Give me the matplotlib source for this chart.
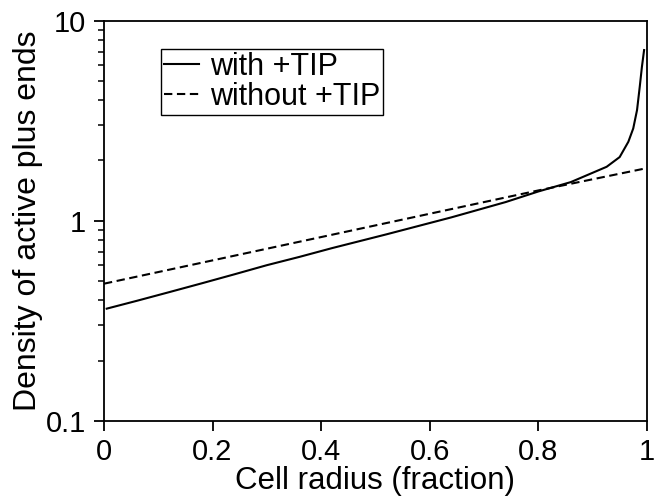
import matplotlib
matplotlib.use("Agg")
import matplotlib.pyplot as plt
from matplotlib.ticker import FixedLocator, NullFormatter, FixedFormatter

plt.rcParams['font.family'] = ['Liberation Sans', 'DejaVu Sans']

# with +TIP (solid)
x_with = [0.005, 0.06, 0.12, 0.18, 0.24, 0.30, 0.36, 0.42, 0.52, 0.64,
          0.74, 0.80, 0.86, 0.926, 0.950, 0.966, 0.975, 0.982, 0.987, 0.991, 0.995]
y_with = [0.364, 0.398, 0.44, 0.487, 0.54, 0.60, 0.66, 0.73, 0.855, 1.04,
          1.24, 1.40, 1.56, 1.86, 2.08, 2.48, 2.89, 3.57, 4.67, 5.87, 7.12]

# without +TIP (dashed)
x_without = [0.0, 0.2, 0.4, 0.6, 0.8, 0.995]
y_without = [0.485, 0.634, 0.829, 1.084, 1.417, 1.82]

xticks = [0, 0.2, 0.4, 0.6, 0.8, 1]
xtick_labels = ["0", "0.2", "0.4", "0.6", "0.8", "1"]
yticks = [0.1, 1, 10]
ytick_labels = ["0.1", "1", "10"]

fig = plt.figure(figsize=(6.54, 4.98), dpi=100)
ax = fig.add_axes([0.159, 0.1546, 0.830, 0.8042])

ax.plot(x_with, y_with, color='black', lw=1.5, label='with +TIP')
ax.plot(x_without, y_without, color='black', lw=1.5, ls=(0, (4, 2.2)), label='without +TIP')

ax.set_yscale('log')
ax.set_xlim(0, 1)
ax.set_ylim(0.1, 10)
ax.xaxis.set_major_locator(FixedLocator(xticks))
ax.xaxis.set_major_formatter(FixedFormatter(xtick_labels))
ax.yaxis.set_major_locator(FixedLocator(yticks))
ax.yaxis.set_major_formatter(FixedFormatter(ytick_labels))
minor = [m * d for d in (0.1, 1) for m in range(2, 10)]
ax.yaxis.set_minor_locator(FixedLocator(minor))
ax.yaxis.set_minor_formatter(NullFormatter())
ax.xaxis.set_minor_locator(FixedLocator([]))

for s in ax.spines.values():
    s.set_linewidth(1.3)
ax.tick_params(axis='both', which='major', direction='out', length=7.5, width=1.3,
               labelsize=21, top=False, right=False)
ax.tick_params(axis='y', which='minor', direction='out', length=4.5, width=1.1, right=False)
ax.tick_params(axis='x', which='major', pad=5)
ax.tick_params(axis='y', which='major', pad=5.5)

ax.set_xlabel('Cell radius (fraction)', fontsize=22.5, labelpad=0)
ax.set_ylabel('Density of active plus ends', fontsize=23, labelpad=2)

leg = ax.legend(loc='upper left', bbox_to_anchor=(0.105, 0.93), fontsize=22,
                handlelength=1.15, handletextpad=0.36, borderpad=0.1,
                labelspacing=0.0, fancybox=False, framealpha=1, edgecolor='black',
                borderaxespad=0)
leg.get_frame().set_linewidth(1.0)

fig.savefig('out.png', dpi=100)
